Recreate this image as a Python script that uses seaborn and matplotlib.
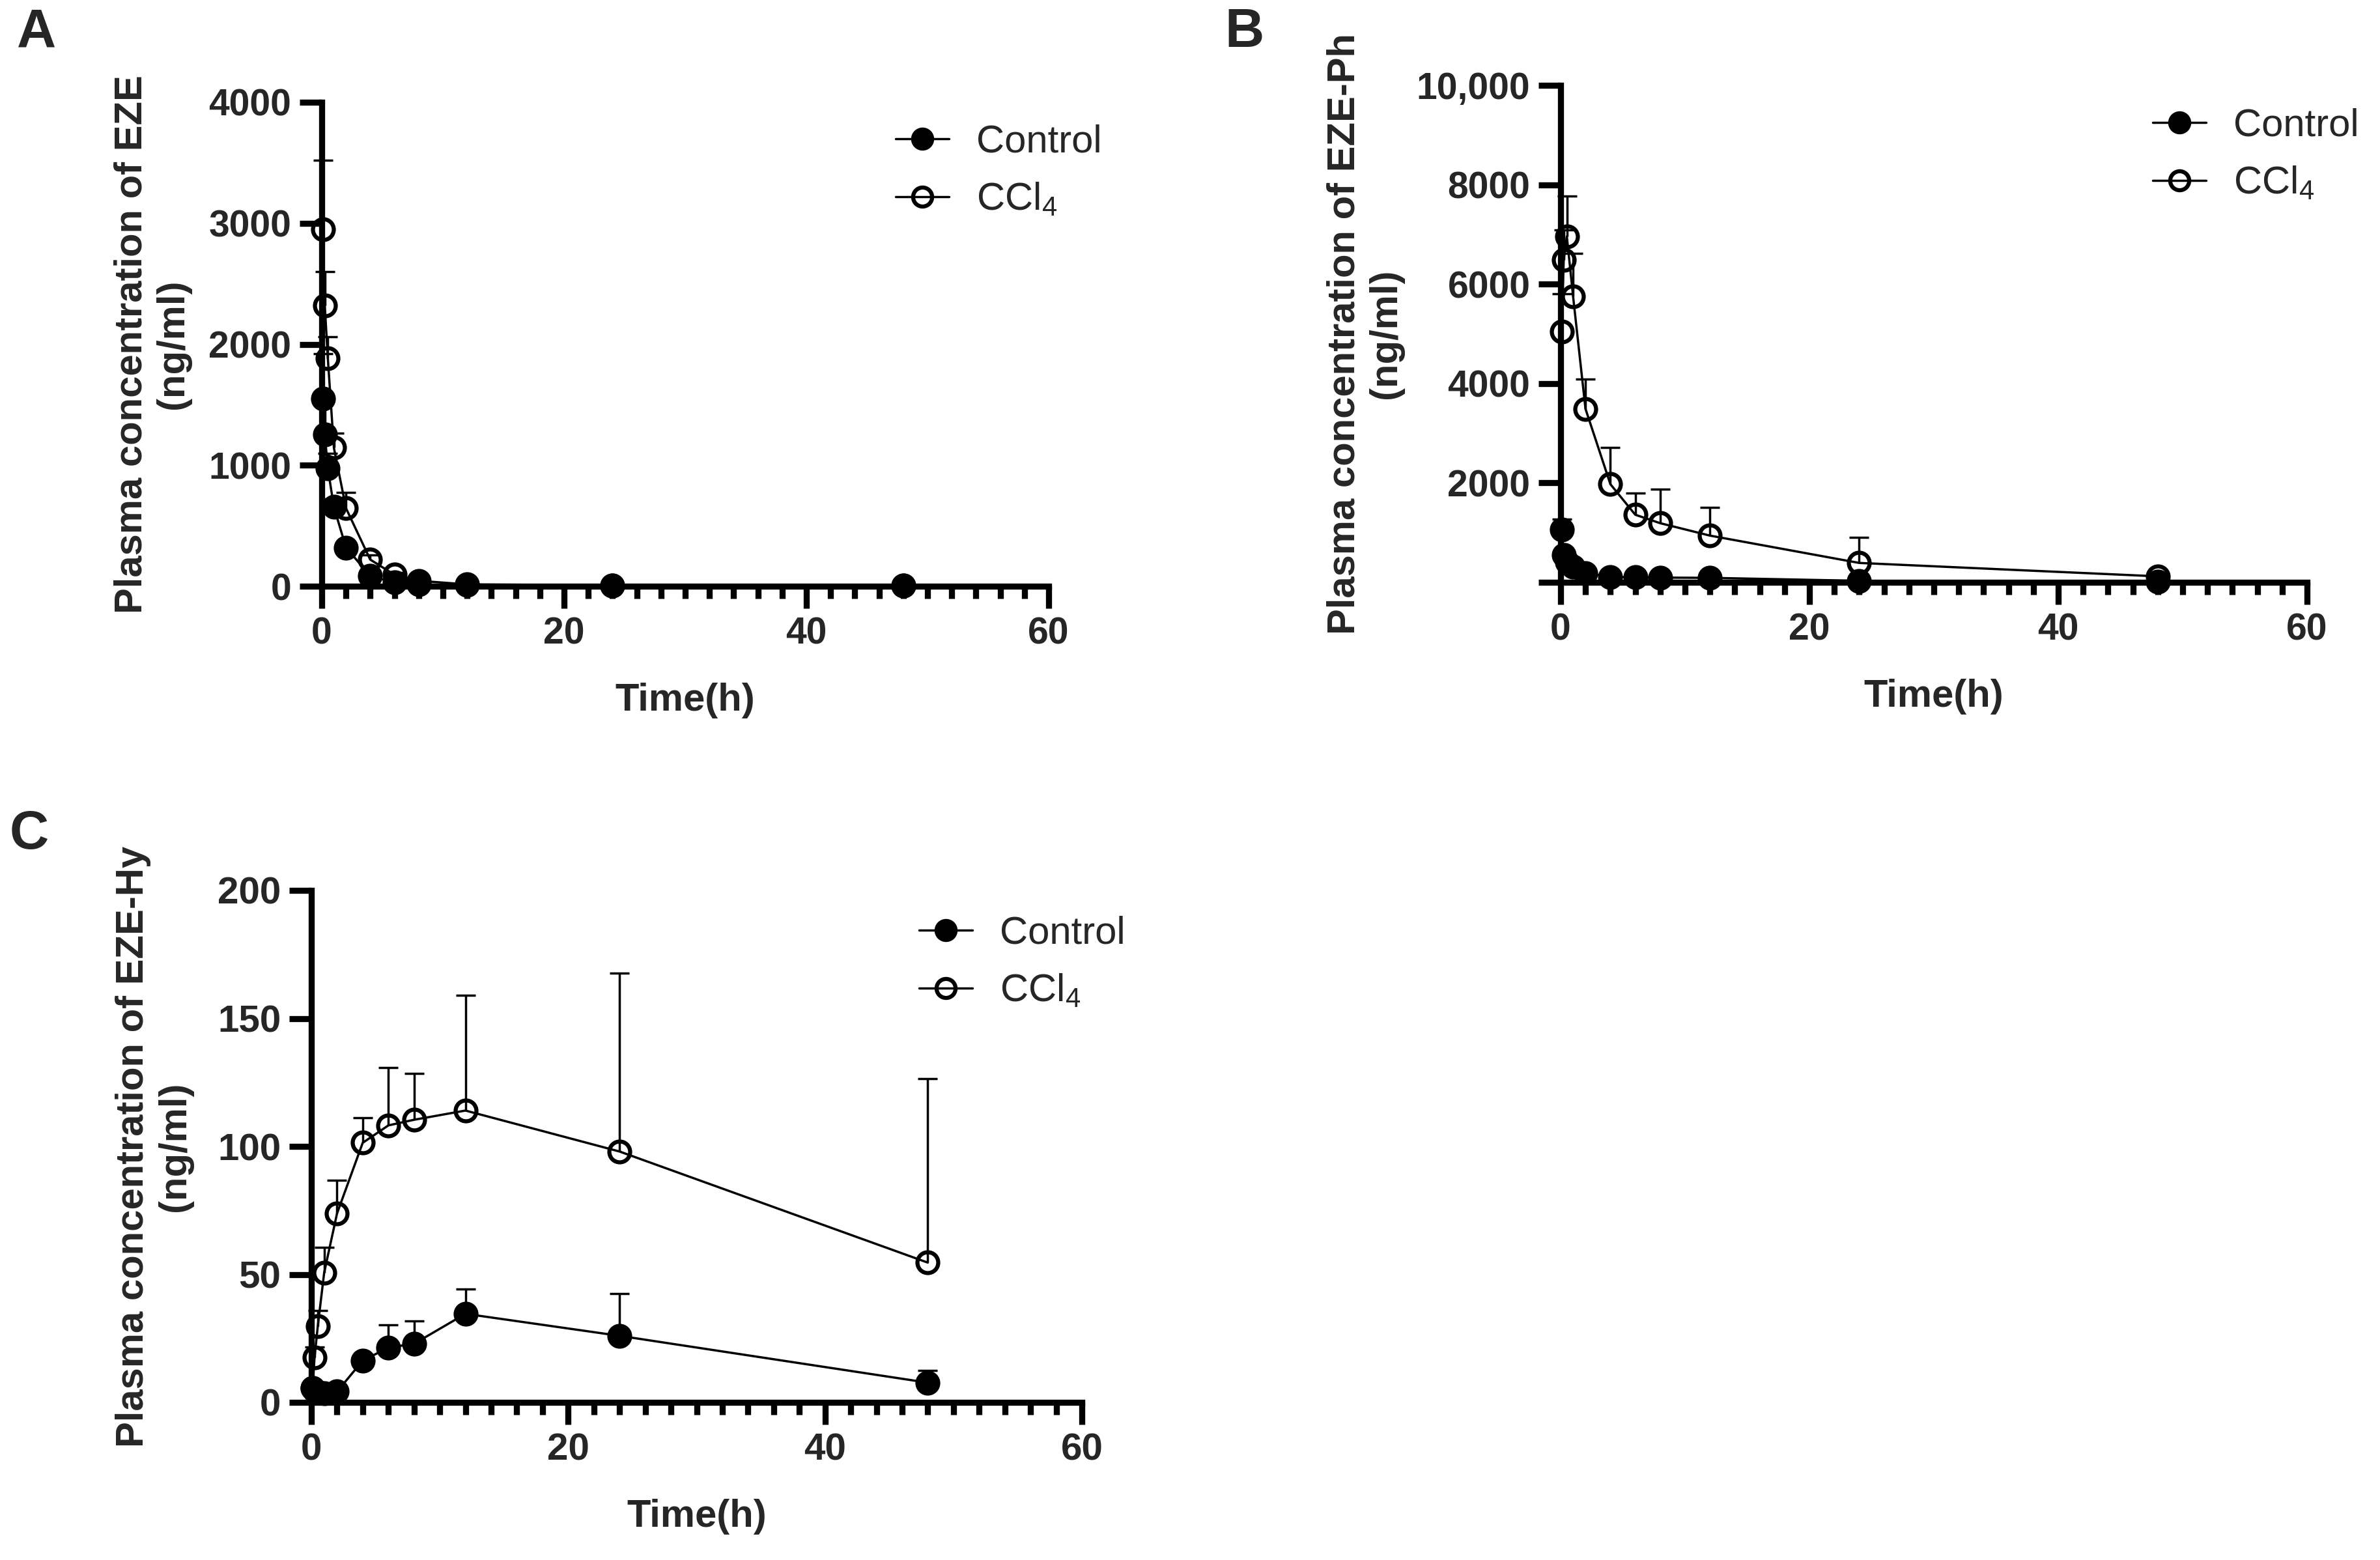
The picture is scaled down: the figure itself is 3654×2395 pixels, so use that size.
import numpy as np
import matplotlib
matplotlib.use('Agg')
import matplotlib.pyplot as plt
import seaborn as sns
from matplotlib.lines import Line2D
from matplotlib.ticker import MultipleLocator, FixedLocator, FixedFormatter

# sampling times (h)
time_h = [0.083, 0.25, 0.5, 1, 2, 4, 6, 8, 12, 24, 48]

# A: EZE (ng/ml), mean and upper SD
eze_control = [1550, 1255, 975, 655, 320, 85, 30, 15, 10, 5, 3]
eze_control_sd = [370, 290, 125, 65, 40, 15, 5, 3, 2, 2, 1]
eze_ccl4 = [2950, 2320, 1885, 1145, 645, 220, 95, 45, 15, 8, 5]
eze_ccl4_sd = [570, 280, 178, 120, 130, 40, 20, 10, 5, 2, 2]

# B: EZE-Ph (ng/ml)
ezeph_control = [1060, 550, 400, 315, 185, 110, 100, 95, 90, 30, 15]
ezeph_control_sd = [210, 50, 50, 35, 25, 20, 15, 15, 15, 10, 5]
ezeph_ccl4 = [5050, 6490, 6960, 5760, 3490, 1975, 1360, 1190, 940, 390, 120]
ezeph_ccl4_sd = [750, 595, 815, 855, 605, 740, 430, 690, 565, 520, 40]

# C: EZE-Hy (ng/ml)
ezehy_control = [5.5, 4.5, 4.0, 3.5, 4.2, 16.3, 21.4, 22.9, 34.6, 26.0, 7.7]
ezehy_control_sd = [1.5, 1.0, 1.0, 1.0, 1.0, 2.0, 8.8, 8.8, 9.7, 16.6, 4.8]
ezehy_ccl4 = [5.5, 17.5, 29.7, 50.7, 73.8, 101.4, 108.2, 110.4, 114.0, 98.0, 54.6]
ezehy_ccl4_sd = [2.0, 4.2, 6.1, 9.9, 12.9, 9.7, 22.7, 18.0, 45.0, 69.6, 71.8]

group_labels = ['Control', 'CCl$_4$']

sns.set_style('ticks')
plt.rcParams['font.family'] = ['Liberation Sans', 'DejaVu Sans']
plt.rcParams['font.weight'] = 'bold'
plt.rcParams['mathtext.default'] = 'regular'

W, H = 3655, 2395
fig = plt.figure(figsize=(W / 100, H / 100), dpi=100)


def px_axes(x0, y0, x1, y1):
    return fig.add_axes([x0 / W, 1 - y1 / H, (x1 - x0) / W, (y1 - y0) / H])


LW = 2.5
MS = 23
MEW = 4.5


def draw_series(ax, mean, sd, filled, z):
    eb = ax.errorbar(time_h, mean, yerr=[np.zeros(len(sd)), sd], fmt='none',
                     ecolor='black', elinewidth=LW, capsize=10.5, capthick=LW,
                     clip_on=False, zorder=z)
    for cl in eb[1]:
        if np.allclose(cl.get_ydata(), mean):
            cl.set_visible(False)
    for bc in eb[2]:
        bc.set_clip_on(False)
    sns.lineplot(x=time_h, y=mean, ax=ax, color='black', linewidth=LW,
                 marker='o', markersize=MS,
                 markerfacecolor='black' if filled else 'none',
                 markeredgecolor='black', markeredgewidth=MEW,
                 errorbar=None, clip_on=False, zorder=z + 1, legend=False)


def style_axes(ax, ymax, yticks, ylabels, ylabel, ylab_x, tick_size):
    ax.set_xlim(0, 60)
    ax.set_ylim(0, ymax)
    ax.xaxis.set_major_locator(MultipleLocator(20))
    ax.xaxis.set_minor_locator(MultipleLocator(2))
    ax.yaxis.set_major_locator(FixedLocator(yticks))
    ax.yaxis.set_major_formatter(FixedFormatter(ylabels))
    sns.despine(ax=ax)
    for s in ['left', 'bottom']:
        ax.spines[s].set_linewidth(6.7)
        ax.spines[s].set_color('black')
    ax.tick_params(axis='both', which='major', length=24.5, width=6.7,
                   pad=9, labelsize=tick_size, color='black')
    ax.tick_params(axis='x', which='minor', length=13.7, width=6.7, color='black')
    ax.set_xlabel('Time(h)', fontsize=43, fontweight='bold', labelpad=34)
    ax.set_ylabel(ylabel, fontsize=43, fontweight='bold')
    ax.yaxis.set_label_coords(ylab_x, 0.5)
    ax.yaxis.label.set_verticalalignment('center')


def add_legend(ax, x, y):
    handles = [
        Line2D([0], [0], color='black', lw=LW, marker='o', ms=MS - 2,
               mfc='black', mec='black', mew=MEW),
        Line2D([0], [0], color='black', lw=LW, marker='o', ms=MS - 2,
               mfc='none', mec='black', mew=MEW),
    ]
    ax.legend(handles, group_labels, loc='center left',
              bbox_to_anchor=(x / W, 1 - y / H), bbox_transform=fig.transFigure,
              frameon=False, prop={'size': 43, 'weight': 'normal'},
              handlelength=1.38, handletextpad=0.7, labelspacing=0.55,
              borderpad=0, borderaxespad=0)


# Panel A
axA = px_axes(494, 157, 1610, 900)
draw_series(axA, eze_ccl4, eze_ccl4_sd, False, 3)
draw_series(axA, eze_control, eze_control_sd, True, 5)
style_axes(axA, 4000, [0, 1000, 2000, 3000, 4000],
           ['0', '1000', '2000', '3000', '4000'],
           'Plasma concentration of EZE\n(ng/ml)', -0.233, 41)
add_legend(axA, 1375, 263)

# Panel B
axB = px_axes(2396, 131, 3542, 894)
draw_series(axB, ezeph_ccl4, ezeph_ccl4_sd, False, 3)
draw_series(axB, ezeph_control, ezeph_control_sd, True, 5)
style_axes(axB, 10000, [0, 2000, 4000, 6000, 8000, 10000],
           ['', '2000', '4000', '6000', '8000', '10,000'],
           'Plasma concentration of EZE-Ph\n(ng/ml)', -0.262, 41)
add_legend(axB, 3305, 238)

# Panel C
axC = px_axes(478, 1367, 1661, 2153)
draw_series(axC, ezehy_ccl4, ezehy_ccl4_sd, False, 3)
draw_series(axC, ezehy_control, ezehy_control_sd, True, 5)
style_axes(axC, 200, [0, 50, 100, 150, 200],
           ['0', '50', '100', '150', '200'],
           'Plasma concentration of EZE-Hy\n(ng/ml)', -0.204, 42)
add_legend(axC, 1411, 1478)

# panel letters
for letter, lx, ly in [('A', 26, 72), ('B', 1880, 72), ('C', 15, 1303)]:
    fig.text(lx / W, 1 - ly / H, letter, fontsize=60, fontweight='bold',
             ha='left', va='baseline')

fig.savefig('out.png', dpi=100, facecolor='white')
